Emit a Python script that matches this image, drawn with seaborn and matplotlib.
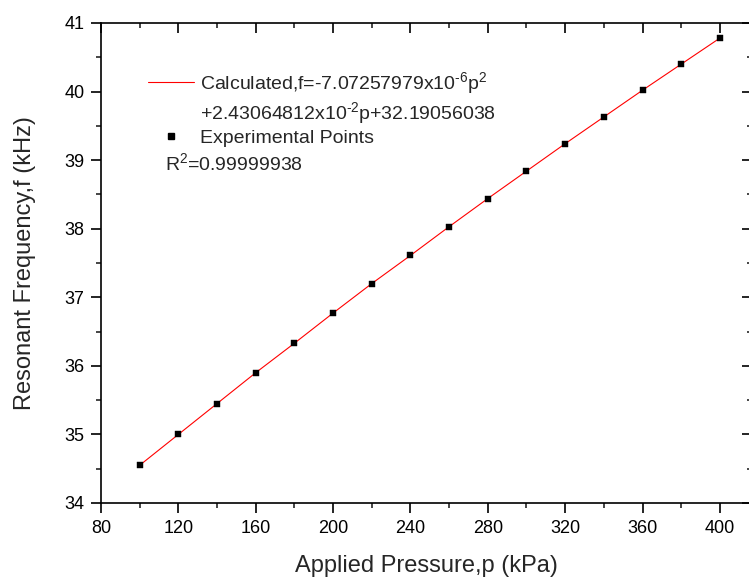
import matplotlib
matplotlib.use("Agg")
import matplotlib.pyplot as plt
from matplotlib.lines import Line2D
from matplotlib.ticker import MultipleLocator
import seaborn as sns
import pandas as pd

# Data
pressure = [100, 120, 140, 160, 180, 200, 220, 240, 260, 280, 300, 320, 340, 360, 380, 400]
frequency = [34.55, 35.00, 35.45, 35.90, 36.33, 36.77, 37.20, 37.61, 38.03, 38.44,
             38.84, 39.24, 39.63, 40.02, 40.40, 40.78]
fit_label_1 = r"Calculated,f=-7.07257979x10$^{\text{-}6}$p$^{2}$"
fit_label_2 = r"+2.43064812x10$^{\text{-}2}$p+32.19056038"
points_label = "Experimental Points"
r2_text = r"R$^{2}$=0.99999938"
x_label = "Applied Pressure,p (kPa)"
y_label = "Resonant Frequency,f (kHz)"

df = pd.DataFrame({"p": pressure, "f": frequency})

sns.set_style("ticks")
plt.rcParams["font.family"] = ["Liberation Sans", "DejaVu Sans"]
plt.rcParams["mathtext.default"] = "regular"
plt.rcParams["mathtext.fontset"] = "custom"
plt.rcParams["mathtext.rm"] = "Liberation Sans"

fig = plt.figure(figsize=(7.49, 5.77), dpi=100)
ax = fig.add_axes([101 / 749, 1 - 503 / 577, 651 / 749, 480 / 577])

sns.lineplot(data=df, x="p", y="f", ax=ax, color="#ff0000", linewidth=0.8, zorder=2)
sns.scatterplot(data=df, x="p", y="f", ax=ax, marker="s", color="black",
                s=22, edgecolor="black", linewidth=0.3, zorder=3)

ax.set_xlim(80, 416.6)
ax.set_ylim(34, 41)
ax.xaxis.set_major_locator(MultipleLocator(40))
ax.xaxis.set_minor_locator(MultipleLocator(20))
ax.yaxis.set_major_locator(MultipleLocator(1))
ax.yaxis.set_minor_locator(MultipleLocator(0.5))

for sp in ax.spines.values():
    sp.set_linewidth(1.2)
    sp.set_visible(True)
    sp.set_color("black")

ax.tick_params(which="major", direction="out", length=7, width=1.2,
               labelsize=13, pad=5, colors="black")
ax.tick_params(which="minor", direction="out", length=3.5, width=1.2)
ax.tick_params(which="both", top=True, right=True)
# top/right ticks point inward
for t in ax.xaxis.get_major_ticks() + ax.xaxis.get_minor_ticks():
    t.tick2line.set_marker(matplotlib.lines.TICKDOWN)
for t in ax.yaxis.get_major_ticks() + ax.yaxis.get_minor_ticks():
    t.tick2line.set_marker(matplotlib.lines.TICKLEFT)

ax.set_xlabel(x_label, fontsize=17, labelpad=13)
ax.set_ylabel(y_label, fontsize=17, labelpad=20)

handles = [
    Line2D([], [], color="#ff0000", linewidth=0.8),
    Line2D([], [], linestyle="none", marker=None),
    Line2D([], [], linestyle="none", marker="s", color="black", markersize=5),
]
labels = [fit_label_1, fit_label_2, points_label]
leg = ax.legend(handles, labels, loc="upper left",
                bbox_to_anchor=((148 - 101) / 651, (503 - 70) / 480),
                frameon=False, fontsize=14, handlelength=2.35, handletextpad=0.3,
                borderpad=0, borderaxespad=0, labelspacing=0.2)

ax.text((165 - 101) / 651, (503 - 163) / 480, r2_text, transform=ax.transAxes,
        fontsize=14, va="center", ha="left")

fig.savefig("out.png", dpi=100)
